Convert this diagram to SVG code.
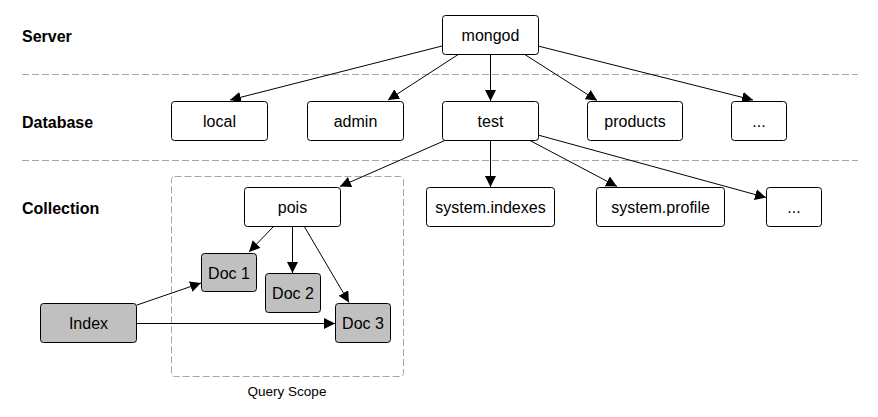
<svg xmlns="http://www.w3.org/2000/svg" width="878" height="417" viewBox="0 0 878 417">
<style>
.bg{fill:#fff}
.sep{stroke:#a6a6a6;stroke-width:1;stroke-dasharray:7,3;fill:none}
.box{fill:#fff;stroke:#000;stroke-width:1}
.doc{fill:#c0c0c0;stroke:#000;stroke-width:1}
.t{font-family:"Liberation Sans",Arial,sans-serif;font-size:16px;fill:#000;text-anchor:middle}
.lab{font-family:"Liberation Sans",Arial,sans-serif;font-size:16px;font-weight:bold;fill:#000}
.small{font-family:"Liberation Sans",Arial,sans-serif;font-size:13.5px;fill:#000;text-anchor:middle}
.c{stroke:#000;stroke-width:1;fill:none;marker-end:url(#ah)}
</style>
<defs>
<marker id="ah" viewBox="0 0 11 11" refX="11" refY="5.5" markerWidth="11" markerHeight="11" markerUnits="userSpaceOnUse" orient="auto">
<path d="M0,0 L11,5.5 L0,11 z" fill="#000"/>
</marker>
</defs>
<rect class="bg" x="0" y="0" width="878" height="417"/>
<g id="separators">
<line class="sep" x1="22" y1="74.5" x2="858" y2="74.5"/>
<line class="sep" x1="22" y1="160.5" x2="858" y2="160.5"/>
</g>
<g id="labels">
<text class="lab" x="22" y="41.5">Server</text>
<text class="lab" x="22" y="127.5">Database</text>
<text class="lab" x="22" y="213.5">Collection</text>
</g>
<g id="query-scope">
<rect class="sep" x="171.5" y="176.5" width="232" height="200" rx="3"/>
<text class="small" x="287" y="396">Query Scope</text>
</g>
<g id="connectors">
<line class="c" x1="442" y1="46" x2="230" y2="100"/>
<line class="c" x1="459" y1="54" x2="388" y2="100"/>
<line class="c" x1="490.5" y1="54" x2="490.5" y2="101"/>
<line class="c" x1="524" y1="54" x2="597" y2="100.5"/>
<line class="c" x1="538" y1="46" x2="753" y2="100"/>
<line class="c" x1="446" y1="140" x2="340" y2="186.5"/>
<line class="c" x1="490.5" y1="140" x2="490.5" y2="187"/>
<line class="c" x1="529" y1="140" x2="617" y2="186.5"/>
<line class="c" x1="538" y1="135" x2="766" y2="197.5"/>
<line class="c" x1="273" y1="227" x2="249" y2="252"/>
<line class="c" x1="292.5" y1="226" x2="292.5" y2="273"/>
<line class="c" x1="304" y1="226" x2="349" y2="302.5"/>
<line class="c" x1="137" y1="305" x2="201" y2="283"/>
<line class="c" x1="136" y1="323.5" x2="335" y2="323.5"/>
</g>
<g id="mongod"><rect class="box" x="442.5" y="15.5" width="96" height="39" rx="3"/><text class="t" x="490.5" y="41">mongod</text></g>
<g id="local"><rect class="box" x="171.5" y="101.5" width="96" height="39" rx="3"/><text class="t" x="219.5" y="127">local</text></g>
<g id="admin"><rect class="box" x="307.5" y="101.5" width="96" height="39" rx="3"/><text class="t" x="355.5" y="127">admin</text></g>
<g id="test"><rect class="box" x="442.5" y="101.5" width="96" height="39" rx="3"/><text class="t" x="490.5" y="127">test</text></g>
<g id="products"><rect class="box" x="587.5" y="101.5" width="95" height="39" rx="3"/><text class="t" x="635" y="127">products</text></g>
<g id="db-more"><rect class="box" x="731.5" y="101.5" width="55" height="39" rx="3"/><text class="t" x="759" y="127">...</text></g>
<g id="pois"><rect class="box" x="244.5" y="187.5" width="96" height="39" rx="3"/><text class="t" x="292.5" y="213">pois</text></g>
<g id="system-indexes"><rect class="box" x="426.5" y="187.5" width="128" height="39" rx="3"/><text class="t" x="490.5" y="213">system.indexes</text></g>
<g id="system-profile"><rect class="box" x="596.5" y="187.5" width="128" height="39" rx="3"/><text class="t" x="660.5" y="213">system.profile</text></g>
<g id="coll-more"><rect class="box" x="766.5" y="187.5" width="55" height="39" rx="3"/><text class="t" x="794" y="213">...</text></g>
<g id="doc1"><rect class="doc" x="201.5" y="253.5" width="55" height="38" rx="3"/><text class="t" x="229" y="278.5">Doc 1</text></g>
<g id="doc2"><rect class="doc" x="265.5" y="273.5" width="55" height="39" rx="3"/><text class="t" x="293" y="299">Doc 2</text></g>
<g id="doc3"><rect class="doc" x="335.5" y="303.5" width="55" height="39" rx="3"/><text class="t" x="363" y="329">Doc 3</text></g>
<g id="index"><rect class="doc" x="40.5" y="303.5" width="96" height="39" rx="3"/><text class="t" x="88.5" y="329">Index</text></g>
</svg>
